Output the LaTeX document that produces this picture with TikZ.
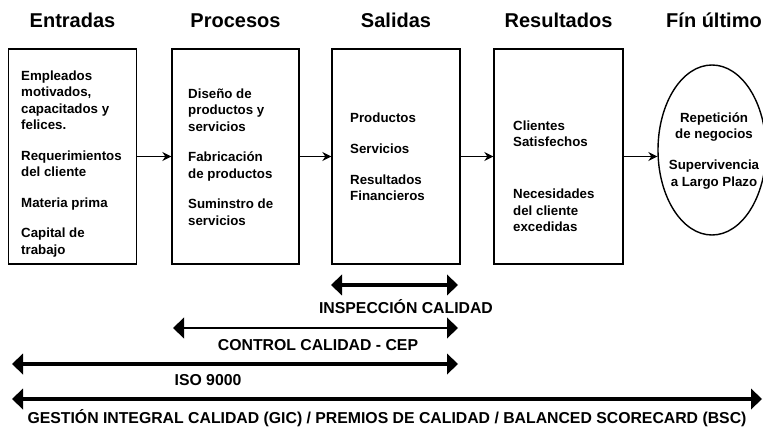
\documentclass[tikz,border=0pt]{standalone}
\usepackage{fontspec}
\setmainfont{Liberation Sans}
\usetikzlibrary{arrows.meta,shapes.geometric}
\begin{document}
\begin{tikzpicture}[x=1pt,y=-1pt,
  box/.style={draw,line width=1.4pt,minimum width=128pt,minimum height=215pt,inner sep=0pt},
  head/.style={font=\fontsize{20}{23}\selectfont\bfseries,anchor=base,inner sep=0pt},
  body/.style={font=\fontsize{13.3}{16.5}\selectfont\bfseries,align=left,anchor=north west,inner sep=0pt},
  flow/.style={line width=1.3pt,-{Stealth[length=9pt,width=9pt,inset=3pt]}},
  big/.style={line width=4.3pt,{Triangle[length=11pt,width=21pt,line width=0pt]}-{Triangle[length=11pt,width=21pt,line width=0pt]}},
  lab/.style={font=\fontsize{15.8}{19}\selectfont\bfseries,anchor=base,inner sep=0pt}]
\useasboundingbox (0,0) rectangle (763,430);

% headers
\node[head] (h1) at (72.5,28) {Entradas};
\node[head] (h2) at (235.5,28) {Procesos};
\node[head] (h3) at (396,28) {Salidas};
\node[head] (h4) at (558.5,28) {Resultados};
\node[head] (h5) at (714,28) {Fín último};

% boxes
\node[box] (b1) at (72.5,156.5) {};
\node[box,minimum width=127pt] (b2) at (235.5,156.5) {};
\node[box] (b3) at (396,156.5) {};
\node[box,minimum width=129pt] (b4) at (558.5,156.5) {};
\node[draw,ellipse,line width=1.4pt,minimum width=108pt,minimum height=170pt,inner sep=0pt] (ell) at (712,150) {};

% texts
\node[body] (t1) at (21,70.3) {Empleados\\motivados,\\capacitados y\\felices.\\[14pt]Requerimientos\\del cliente\\[14pt]Materia prima\\[14pt]Capital de\\trabajo};
\node[body] (t2) at (188,88.3) {Diseño de\\productos y\\servicios\\[14pt]Fabricación\\de productos\\[14pt]Suminstro de\\servicios};
\node[body] (t3) at (350,112.3) {Productos\\[14.5pt]Servicios\\[14.5pt]Resultados\\Financieros};
\node[body] (t4) at (513,120.3) {Clientes\\Satisfechos\\[35.5pt]Necesidades\\del cliente\\excedidas};
\node[body,align=center,anchor=north] (t5) at (714,112.3) {Repetición\\de negocios\\[14.5pt]Supervivencia\\a Largo Plazo};

% flow arrows
\draw[flow] (b1.east) -- (b2.west);
\draw[flow] (b2.east) -- (b3.west);
\draw[flow] (b3.east) -- (b4.west);
\draw[flow] (b4.east) -- (b4.east -| ell.west);

% bottom ranges
\coordinate (i1) at (331,285);
\coordinate (i2) at (458,285);
\coordinate (c1) at (173,328);
\coordinate (c2) at (458,328);
\coordinate (s1) at (12,364);
\coordinate (s2) at (458,364);
\coordinate (g1) at (12,399);
\coordinate (g2) at (762,399);
\draw[big] (i1) -- (i2);
\draw[big,line width=2.7pt] (c1) -- (c2);
\draw[big] (s1) -- (s2);
\draw[big] (g1) -- (g2);

\node[lab] (l1) at (406,313) {INSPECCIÓN CALIDAD};
\node[lab] (l2) at (318,350) {CONTROL CALIDAD - CEP};
\node[lab] (l3) at (208,385) {ISO 9000};
\node[lab] (l4) at (387,423) {GESTIÓN INTEGRAL CALIDAD (GIC) / PREMIOS DE CALIDAD / BALANCED SCORECARD (BSC)};
\end{tikzpicture}
\end{document}
